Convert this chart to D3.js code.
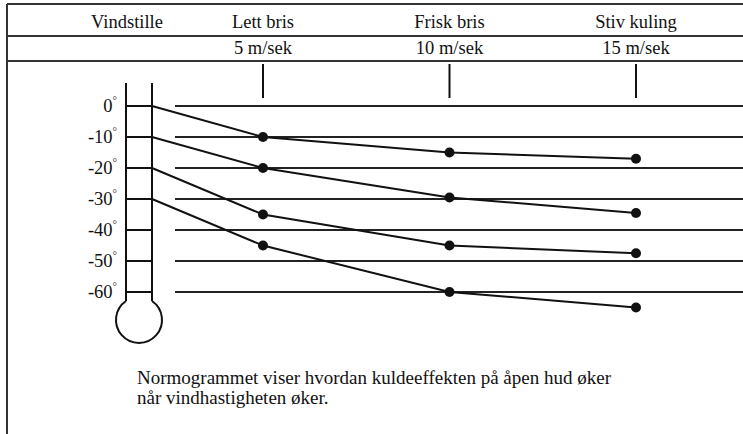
<!DOCTYPE html>
<html>
<head>
<meta charset="utf-8">
<script src="https://cdn.jsdelivr.net/npm/d3@7"></script>
<style>
  html, body { margin: 0; padding: 0; background: #fff; }
  svg { display: block; }
  text { font-family: "Liberation Serif", "Times New Roman", serif; fill: #111; }
</style>
</head>
<body>
<svg id="chart" width="743" height="434"></svg>
<script>
// Wind categories and their speeds (m/s)
const windNames = ["Vindstille", "Lett bris", "Frisk bris", "Stiv kuling"];
const windSpeeds = [0, 5, 10, 15];
const speedLabels = ["", "5 m/sek", "10 m/sek", "15 m/sek"];

// Thermometer scale ticks (°C)
const tempTicks = [0, -10, -20, -30, -40, -50, -60];

// Felt temperature at each wind speed, one series per still-air temperature
const series0 = [0, -10, -15, -17];
const series10 = [-10, -20, -29.5, -34.5];
const series20 = [-20, -35, -45, -47.5];
const series30 = [-30, -45, -60, -65];
const allSeries = [series0, series10, series20, series30];

const caption = [
  "Normogrammet viser hvordan kuldeeffekten på åpen hud øker",
  "når vindhastigheten øker."
];

const W = 743, H = 434;
const svg = d3.select("#chart");
const ink = "#111";

// Layout
const frameLeft = 7;
const rowTop = 4, rowMid = 36, rowBot = 61;
const tubeL = 126, tubeR = 152, tubeTop = 83;
const gridStart = 175;

const y = d3.scaleLinear().domain([0, -60]).range([106, 292]);
// calm air starts at the thermometer, then the wind speeds spread out
const x = d3.scaleLinear().domain([0, 5, 15]).range([tubeR, 263, 636]);
const headerX = d3.scaleLinear().domain([0, 5, 15]).range([127, 263, 636]);

// Frame and header rows
const frame = svg.append("g").attr("stroke", "#333").attr("stroke-width", 2);
frame.append("line").attr("x1", frameLeft).attr("x2", frameLeft).attr("y1", rowTop).attr("y2", H);
[rowTop, rowMid, rowBot].forEach(yy => {
  frame.append("line").attr("x1", frameLeft).attr("x2", W).attr("y1", yy).attr("y2", yy);
});

svg.append("g").selectAll("text.name").data(windNames).join("text")
  .attr("class", "name")
  .attr("x", (d, i) => headerX(windSpeeds[i]))
  .attr("y", 28)
  .attr("text-anchor", "middle")
  .attr("font-size", 18.5)
  .text(d => d);

svg.append("g").selectAll("text.speed").data(speedLabels).join("text")
  .attr("class", "speed")
  .attr("x", (d, i) => headerX(windSpeeds[i]))
  .attr("y", 54)
  .attr("text-anchor", "middle")
  .attr("font-size", 18.5)
  .text(d => d);

// Vertical markers under each wind speed
svg.append("g").selectAll("line").data(windSpeeds.slice(1)).join("line")
  .attr("x1", d => x(d)).attr("x2", d => x(d))
  .attr("y1", 64).attr("y2", 98)
  .attr("stroke", ink).attr("stroke-width", 2);

// Horizontal temperature lines
svg.append("g").selectAll("line").data(tempTicks).join("line")
  .attr("x1", gridStart).attr("x2", W)
  .attr("y1", d => y(d)).attr("y2", d => y(d))
  .attr("stroke", "#222").attr("stroke-width", 2);

// Thermometer
const therm = svg.append("g").attr("stroke", ink).attr("stroke-width", 2).attr("fill", "none");
const bulbR = 23, bulbCx = (tubeL + tubeR) / 2;
const halfW = (tubeR - tubeL) / 2;
const join = Math.sqrt(bulbR * bulbR - halfW * halfW);
const tubeBottom = 301;
const bulbCy = tubeBottom + join;
therm.append("line").attr("x1", tubeL).attr("x2", tubeL).attr("y1", tubeTop).attr("y2", tubeBottom);
therm.append("line").attr("x1", tubeR).attr("x2", tubeR).attr("y1", tubeTop).attr("y2", tubeBottom);
const a0 = Math.asin(halfW / bulbR);
therm.append("path")
  .attr("transform", `translate(${bulbCx},${bulbCy})`)
  .attr("d", d3.arc()({ innerRadius: bulbR, outerRadius: bulbR, startAngle: a0, endAngle: 2 * Math.PI - a0 }));
therm.selectAll("line.tick").data(tempTicks).join("line")
  .attr("class", "tick")
  .attr("x1", tubeL).attr("x2", tubeR)
  .attr("y1", d => y(d)).attr("y2", d => y(d));

// Temperature labels with raised degree sign
const lab = svg.append("g").selectAll("text").data(tempTicks).join("text")
  .attr("x", 117)
  .attr("y", d => y(d) + 6)
  .attr("text-anchor", "end")
  .attr("font-size", 18.5);
lab.append("tspan").text(d => d === 0 ? "0" : String(d));
lab.append("tspan").attr("dy", -8).attr("font-size", 11).text("°");

// Series lines and dots
const line = d3.line().x((d, i) => x(windSpeeds[i])).y(d => y(d));
const sg = svg.append("g");
sg.selectAll("path").data(allSeries).join("path")
  .attr("d", line)
  .attr("fill", "none").attr("stroke", ink).attr("stroke-width", 2);
sg.selectAll("g.dots").data(allSeries).join("g").attr("class", "dots")
  .selectAll("circle").data(d => d.slice(1).map((v, i) => [windSpeeds[i + 1], v])).join("circle")
  .attr("cx", d => x(d[0])).attr("cy", d => y(d[1])).attr("r", 5).attr("fill", ink);

// Caption
svg.append("g").selectAll("text").data(caption).join("text")
  .attr("x", 137)
  .attr("y", (d, i) => 384 + i * 20)
  .attr("font-size", 19)
  .text(d => d);
</script>
</body>
</html>
